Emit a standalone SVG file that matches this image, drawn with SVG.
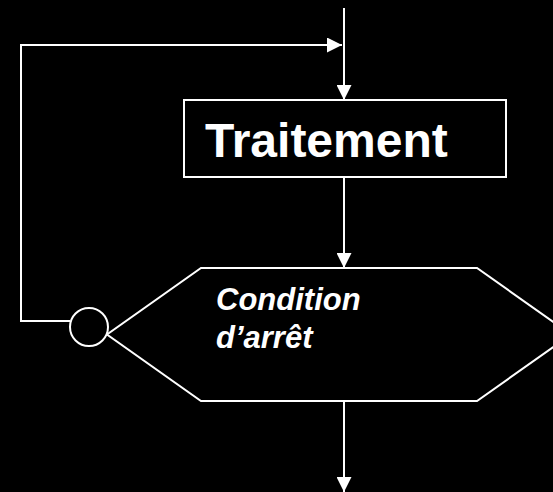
<svg xmlns="http://www.w3.org/2000/svg" width="553" height="492" viewBox="0 0 553 492">
  <defs>
    <marker id="arrow" viewBox="0 0 15 15" refX="15" refY="7.5" markerWidth="15" markerHeight="15" markerUnits="userSpaceOnUse" orient="auto">
      <path d="M0,0 L15,7.5 L0,15 Z" fill="#fff"/>
    </marker>
    <style>
      .edge { stroke: #fff; stroke-width: 2; fill: none; }
      .shape { stroke: #fff; stroke-width: 2; fill: #000; }
      .title { font-family: "Liberation Sans", Arial, sans-serif; font-weight: bold; font-size: 48px; fill: #fff; }
      .cond { font-family: "Liberation Sans", Arial, sans-serif; font-weight: bold; font-style: italic; font-size: 31px; fill: #fff; }
    </style>
  </defs>
  <rect width="553" height="492" fill="#000"/>

  <g id="connectors">
    <!-- entry -->
    <line class="edge" x1="344" y1="8" x2="344" y2="100" marker-end="url(#arrow)"/>
    <!-- loop back -->
    <polyline class="edge" points="70,321 21,321 21,45 342,45" marker-end="url(#arrow)"/>
    <!-- treatment to condition -->
    <line class="edge" x1="344" y1="177" x2="344" y2="268" marker-end="url(#arrow)"/>
    <!-- exit -->
    <line class="edge" x1="344" y1="401" x2="344" y2="492" marker-end="url(#arrow)"/>
  </g>

  <g id="traitement">
    <rect class="shape" x="184" y="100" width="322" height="77"/>
    <text class="title" x="205" y="157">Traitement</text>
  </g>

  <g id="condition">
    <polygon class="shape" points="201,268 477,268 571,334.5 477,401 201,401 107,334.5"/>
    <text class="cond" x="216" y="310">Condition</text>
    <text class="cond" x="216" y="348">d’arrêt</text>
  </g>

  <g id="jonction">
    <circle class="shape" cx="89" cy="327" r="19"/>
  </g>
</svg>
